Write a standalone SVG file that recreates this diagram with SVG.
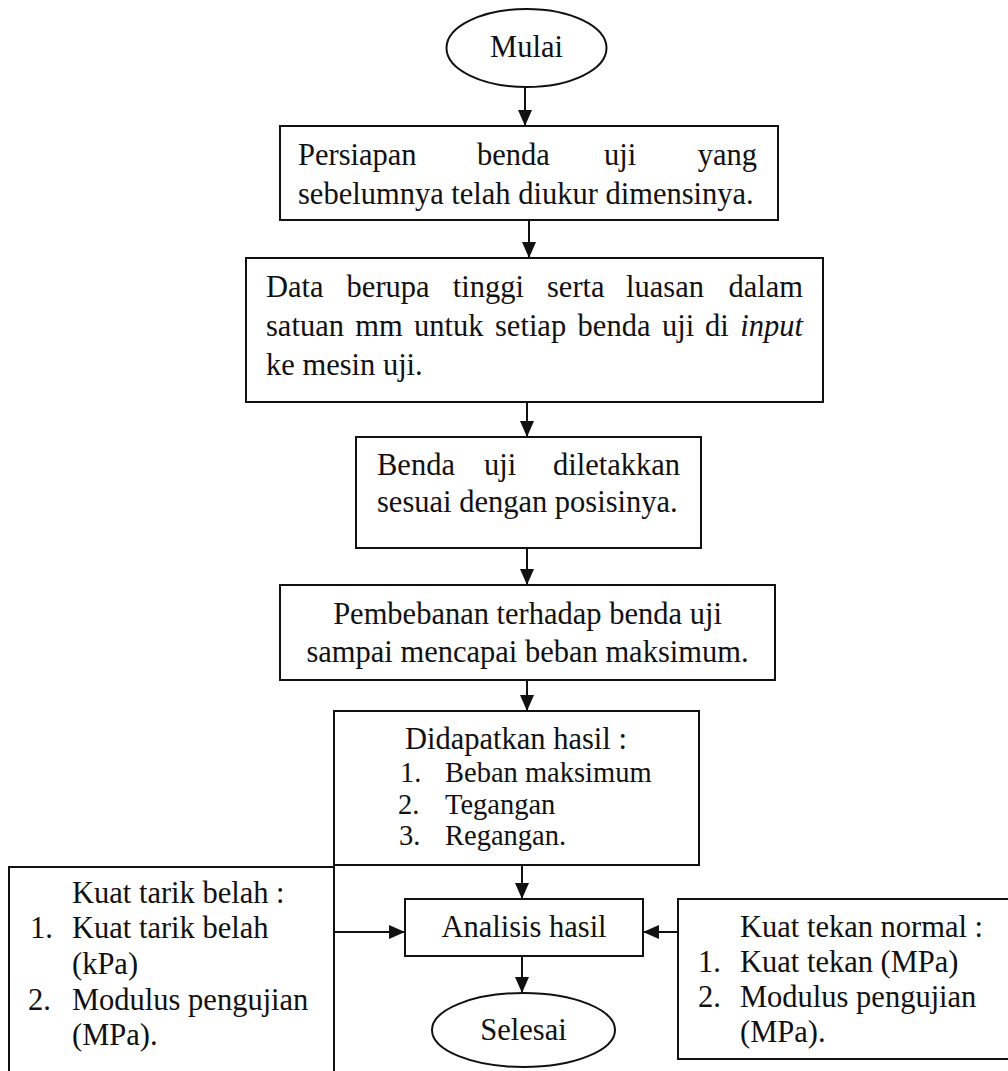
<svg xmlns="http://www.w3.org/2000/svg" width="1008" height="1071" viewBox="0 0 1008 1071">
<style>
.bx{fill:#fff;stroke:#111;stroke-width:2}
.t{font-family:"Liberation Serif","Times New Roman",serif;font-size:30.5px;fill:#111}
.s{font-size:28.5px}
.c{text-anchor:middle}
.e{text-anchor:end}
.cn{stroke:#111;stroke-width:2;fill:none}
</style>
<defs>
<marker id="ah" viewBox="0 0 16 14" refX="16" refY="7" markerWidth="16" markerHeight="14" markerUnits="userSpaceOnUse" orient="auto">
<path d="M0,0 L16,7 L0,14 z" fill="#111"/>
</marker>
</defs>
<rect width="1008" height="1071" fill="#fff"/>

<g id="mulai">
<ellipse class="bx" cx="526.5" cy="48" rx="80" ry="39"/>
<text class="t c" x="526.5" y="57">Mulai</text>
</g>

<g id="persiapan">
<rect class="bx" x="280" y="126" width="498" height="94"/>
<text class="t" y="165"><tspan x="298">Persiapan</tspan><tspan x="477">benda</tspan><tspan x="604">uji</tspan><tspan x="757" text-anchor="end">yang</tspan></text>
<text class="t" x="298" y="204">sebelumnya telah diukur dimensinya.</text>
</g>

<g id="data">
<rect class="bx" x="246" y="258" width="577" height="144"/>
<text class="t" y="297"><tspan x="266">Data</tspan><tspan x="346.6">berupa</tspan><tspan x="452.7">tinggi</tspan><tspan x="547">serta</tspan><tspan x="626">luasan</tspan><tspan x="803" text-anchor="end">dalam</tspan></text>
<text class="t" y="336"><tspan x="266">satuan</tspan><tspan x="355.3">mm</tspan><tspan x="414.1">untuk</tspan><tspan x="495">setiap</tspan><tspan x="577.6">benda</tspan><tspan x="662">uji</tspan><tspan x="705">di</tspan><tspan x="803" text-anchor="end" font-style="italic">input</tspan></text>
<text class="t" x="266" y="375">ke mesin uji.</text>
</g>

<g id="diletakkan">
<rect class="bx" x="356" y="437" width="345" height="111"/>
<text class="t" y="475"><tspan x="377">Benda</tspan><tspan x="484">uji</tspan><tspan x="680" text-anchor="end">diletakkan</tspan></text>
<text class="t" x="377" y="512">sesuai dengan posisinya.</text>
</g>

<g id="pembebanan">
<rect class="bx" x="280" y="585" width="495" height="95"/>
<text class="t c" x="527.5" y="624">Pembebanan terhadap benda uji</text>
<text class="t c" x="527.5" y="662">sampai mencapai beban maksimum.</text>
</g>

<g id="hasil">
<rect class="bx" x="334" y="711" width="365" height="154"/>
<text class="t" x="405" y="749">Didapatkan hasil :</text>
<text class="t s" x="400" y="782">1.</text><text class="t s" x="445" y="782">Beban maksimum</text>
<text class="t s" x="398" y="814">2.</text><text class="t s" x="445" y="814">Tegangan</text>
<text class="t s" x="399" y="845">3.</text><text class="t s" x="445" y="845">Regangan.</text>
</g>

<g id="tarik">
<rect class="bx" x="9" y="867" width="325" height="230"/>
<text class="t" x="72" y="903">Kuat tarik belah :</text>
<text class="t" x="30" y="938">1.</text><text class="t" x="72" y="938">Kuat tarik belah</text>
<text class="t" x="72" y="974">(kPa)</text>
<text class="t" x="28" y="1010">2.</text><text class="t" x="72" y="1010">Modulus pengujian</text>
<text class="t" x="72" y="1045">(MPa).</text>
</g>

<g id="analisis">
<rect class="bx" x="405" y="899" width="238" height="57"/>
<text class="t c" x="524" y="937">Analisis hasil</text>
</g>

<g id="tekan">
<rect class="bx" x="678" y="899" width="345" height="160"/>
<text class="t" x="740" y="937">Kuat tekan normal :</text>
<text class="t" x="698" y="972">1.</text><text class="t" x="740" y="972">Kuat tekan (MPa)</text>
<text class="t" x="698" y="1007">2.</text><text class="t" x="740" y="1007">Modulus pengujian</text>
<text class="t" x="740" y="1042">(MPa).</text>
</g>

<g id="selesai">
<ellipse class="bx" cx="523.5" cy="1030" rx="91.5" ry="37"/>
<text class="t c" x="523.5" y="1040">Selesai</text>
</g>

<g id="connectors">
<line class="cn" x1="525" y1="87" x2="525" y2="126" marker-end="url(#ah)"/>
<line class="cn" x1="529" y1="220" x2="529" y2="258" marker-end="url(#ah)"/>
<line class="cn" x1="527" y1="402" x2="527" y2="437" marker-end="url(#ah)"/>
<line class="cn" x1="527" y1="548" x2="527" y2="585" marker-end="url(#ah)"/>
<line class="cn" x1="527" y1="680" x2="527" y2="711" marker-end="url(#ah)"/>
<line class="cn" x1="522" y1="865" x2="522" y2="899" marker-end="url(#ah)"/>
<line class="cn" x1="522" y1="956" x2="522" y2="993" marker-end="url(#ah)"/>
<line class="cn" x1="334" y1="932" x2="405" y2="932" marker-end="url(#ah)"/>
<line class="cn" x1="678" y1="932" x2="643" y2="932" marker-end="url(#ah)"/>
</g>
</svg>
